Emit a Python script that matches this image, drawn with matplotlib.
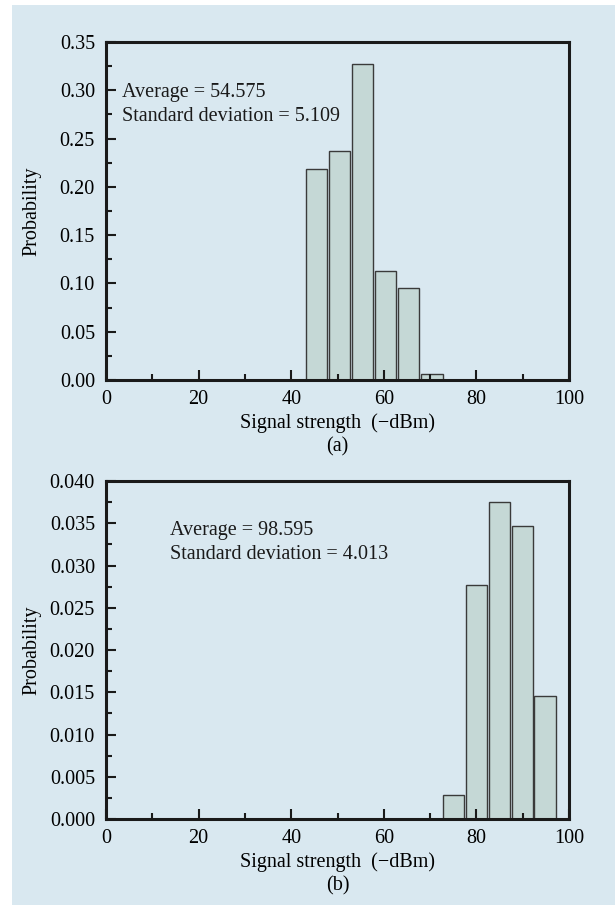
import matplotlib
matplotlib.use("Agg")
import matplotlib.pyplot as plt
from matplotlib.patches import Rectangle
from matplotlib.ticker import MultipleLocator

plt.rcParams['font.family'] = ['Liberation Serif', 'DejaVu Serif']
plt.rcParams['font.size'] = 14.5

# --- histogram data (bin centres in -dBm, probability per bin) ---
centers_a = [45.4, 50.4, 55.4, 60.4, 65.4, 70.4]
probs_a = [0.218, 0.237, 0.327, 0.113, 0.095, 0.006]
stats_a = ["Average = 54.575", "Standard deviation = 5.109"]

centers_b = [75.0, 80.0, 85.0, 90.0, 94.8]
probs_b = [0.0028, 0.0277, 0.0375, 0.0347, 0.0146]
stats_b = ["Average = 98.595", "Standard deviation = 4.013"]

panel_bg = '#d9e8f0'
bar_fill = '#c5d8d6'

fig = plt.figure(figsize=(6.15, 9.05), dpi=100, facecolor='white')
fig.patches.append(Rectangle((0.0195, 0), 0.9805, 0.9945, transform=fig.transFigure,
                             facecolor=panel_bg, edgecolor='none', zorder=-10))

ax_a = fig.add_axes([0.1724, 0.5801, 0.7528, 0.3735])
ax_b = fig.add_axes([0.1724, 0.0950, 0.7528, 0.3735])


def draw_hist(ax, centers, probs, ymax, ymajor, yfmt, stats, tx, ty, tag):
    ax.set_facecolor(panel_bg)
    ax.bar(centers, probs, width=4.6, color=bar_fill, edgecolor='#3a3a3a', linewidth=1.0)
    ax.set_xlim(0, 100)
    ax.set_ylim(0, ymax)

    ax.xaxis.set_major_locator(MultipleLocator(20))
    ax.xaxis.set_minor_locator(MultipleLocator(10))
    ax.yaxis.set_major_locator(MultipleLocator(ymajor))
    ax.yaxis.set_minor_locator(MultipleLocator(ymajor / 2))
    ax.yaxis.set_major_formatter(plt.FormatStrFormatter(yfmt))

    ax.tick_params(which='both', direction='in', top=False, right=False, width=1.5, color='#1a1a1a')
    ax.tick_params(which='major', length=7)
    ax.tick_params(which='minor', length=4)
    ax.tick_params(axis='x', pad=7)
    ax.tick_params(axis='y', pad=8)

    for sp in ax.spines.values():
        sp.set_linewidth(2.2)
        sp.set_color('#1a1a1a')

    ax.set_ylabel("Probability")
    ax.yaxis.set_label_coords(-0.140, 0.5)
    ax.set_xlabel("Signal strength  (\u2212dBm)\n" + tag, labelpad=3, linespacing=1.3)

    ax.text(tx, ty, stats[0], ha='left', va='center', color='#1a1a1a')
    ax.text(tx, ty - ymax * 0.071, stats[1], ha='left', va='center', color='#1a1a1a')


draw_hist(ax_a, centers_a, probs_a, 0.35, 0.05, '%.2f', stats_a, 3.4, 0.2975, "(a)")
draw_hist(ax_b, centers_b, probs_b, 0.040, 0.005, '%.3f', stats_b, 13.8, 0.0342, "(b)")

fig.savefig("out.png", dpi=100, facecolor=fig.get_facecolor())
